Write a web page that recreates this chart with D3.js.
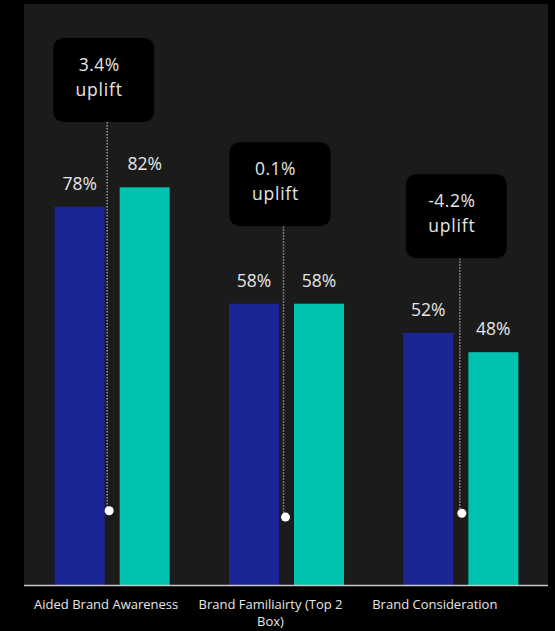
<!DOCTYPE html>
<html>
<head>
<meta charset="utf-8">
<script src="https://cdn.jsdelivr.net/npm/d3@7/dist/d3.min.js"></script>
<style>
  html, body { margin: 0; padding: 0; background: #000; }
  svg { display: block; }
  text { font-family: "Open Sans", "Noto Sans", sans-serif; }
</style>
</head>
<body>
<svg id="chart" width="555" height="631"></svg>
<script>
// ---- data ----
const categories = ["Aided Brand Awareness", "Brand Familiairty (Top 2 Box)", "Brand Consideration"];
const series = ["Control", "Exposed"];
const controlValues = [78, 58, 52];
const exposedValues = [82, 58, 48];
const upliftLabels = ["3.4%", "0.1%", "-4.2%"];
const upliftWord = "uplift";
const annotationTopValues = [112.8, 91.3, 84.7];   // top of callout, in % units
const anchorValues = [15.3, 14, 14.8];            // dot positions, in % units

const colors = { Control: "#1c2595", Exposed: "#00c2ae" };

// ---- layout ----
const W = 555, H = 631;
const panel = { left: 24, right: 548, top: 4, bottom: 585 };

const svg = d3.select("#chart");

svg.append("rect").attr("x", 0).attr("y", 0).attr("width", W).attr("height", H).attr("fill", "#000");
svg.append("rect")
  .attr("x", panel.left).attr("y", panel.top)
  .attr("width", panel.right - panel.left).attr("height", panel.bottom - panel.top)
  .attr("fill", "#1b1b1b");

const x0 = d3.scaleBand().domain(categories).range([25, 548]).paddingInner(0.34).paddingOuter(0.17);
const x1 = d3.scaleBand().domain(series).range([0, x0.bandwidth()]).paddingInner(15 / 65);
const y = d3.scaleLinear().domain([0, 100]).range([panel.bottom, 100]);
const xLabel = d3.scaleBand().domain(categories).range([24, 517]);
const xNote = d3.scaleBand().domain(categories).range([19, 548]);

const rows = categories.map((c, i) => ({
  cat: c,
  vals: [{ s: "Control", v: controlValues[i] }, { s: "Exposed", v: exposedValues[i] }],
  uplift: upliftLabels[i],
  top: annotationTopValues[i],
  anchor: anchorValues[i]
}));

// bars
const g = svg.selectAll("g.grp").data(rows).join("g")
  .attr("class", "grp")
  .attr("transform", d => `translate(${x0(d.cat)},0)`);

g.selectAll("rect.bar").data(d => d.vals).join("rect")
  .attr("class", "bar")
  .attr("x", d => x1(d.s))
  .attr("width", x1.bandwidth())
  .attr("y", d => y(d.v))
  .attr("height", d => y(0) - y(d.v))
  .attr("fill", d => colors[d.s]);

g.selectAll("text.val").data(d => d.vals).join("text")
  .attr("class", "val")
  .attr("x", d => x1(d.s) + x1.bandwidth() / 2)
  .attr("y", d => y(d.v) - 17)
  .attr("text-anchor", "middle")
  .attr("fill", "#e6e6e6")
  .attr("font-size", 17.5)
  .text(d => d.v + "%");

// axis baseline
const xAxis = d3.axisBottom(x0).tickSize(0).tickFormat("");
const axG = svg.append("g").attr("transform", `translate(0,${panel.bottom})`).call(xAxis);
axG.select(".domain").attr("d", `M${panel.left},0.5H${panel.right}`).attr("stroke", "#c8c8c8").attr("stroke-width", 1.5);

// category labels (wrapped)
function wrapWords(text, maxChars) {
  const words = text.split(" ");
  const lines = [];
  let cur = "";
  words.forEach(w => {
    const t = cur ? cur + " " + w : w;
    if (t.length > maxChars && cur) { lines.push(cur); cur = w; } else cur = t;
  });
  if (cur) lines.push(cur);
  return lines;
}
const lab = svg.selectAll("text.cat").data(categories).join("text")
  .attr("class", "cat")
  .attr("text-anchor", "middle")
  .attr("fill", "#e6e6e6")
  .attr("font-size", 13)
  .attr("font-weight", 500)
  .attr("y", 609);
lab.each(function (d) {
  const t = d3.select(this);
  wrapWords(d, 24).forEach((line, i) => {
    t.append("tspan").attr("x", xLabel(d) + xLabel.bandwidth() / 2).attr("dy", i === 0 ? 0 : 17).text(line);
  });
});

// annotations
const boxW = 101, boxH = 84;
const ann = svg.selectAll("g.ann").data(rows).join("g").attr("class", "ann");
ann.append("line")
  .attr("x1", d => xNote(d.cat) + xNote.bandwidth() / 2)
  .attr("x2", d => xNote(d.cat) + xNote.bandwidth() / 2)
  .attr("y1", d => y(d.top) + boxH)
  .attr("y2", d => y(d.anchor))
  .attr("stroke", "#9a9a9a")
  .attr("stroke-width", 1.5)
  .attr("stroke-dasharray", "1.5,1.5");
ann.append("circle")
  .attr("cx", d => xNote(d.cat) + xNote.bandwidth() / 2 + 2)
  .attr("cy", d => y(d.anchor))
  .attr("r", 4.5)
  .attr("fill", "#fff");
ann.append("rect")
  .attr("x", d => xNote(d.cat) + xNote.bandwidth() / 2 - 3.5 - boxW / 2)
  .attr("y", d => y(d.top))
  .attr("width", boxW).attr("height", boxH)
  .attr("rx", 10).attr("ry", 10)
  .attr("fill", "#000");
ann.append("text")
  .attr("x", d => xNote(d.cat) + xNote.bandwidth() / 2 - 8)
  .attr("y", d => y(d.top) + 33)
  .attr("text-anchor", "middle")
  .attr("fill", "#e6e6e6")
  .attr("font-size", 17.5)
  .attr("letter-spacing", 0.5)
  .text(d => d.uplift);
ann.append("text")
  .attr("x", d => xNote(d.cat) + xNote.bandwidth() / 2 - 8)
  .attr("y", d => y(d.top) + 58)
  .attr("text-anchor", "middle")
  .attr("fill", "#e6e6e6")
  .attr("font-size", 17.5)
  .attr("letter-spacing", 0.8)
  .text(upliftWord);
</script>
</body>
</html>
